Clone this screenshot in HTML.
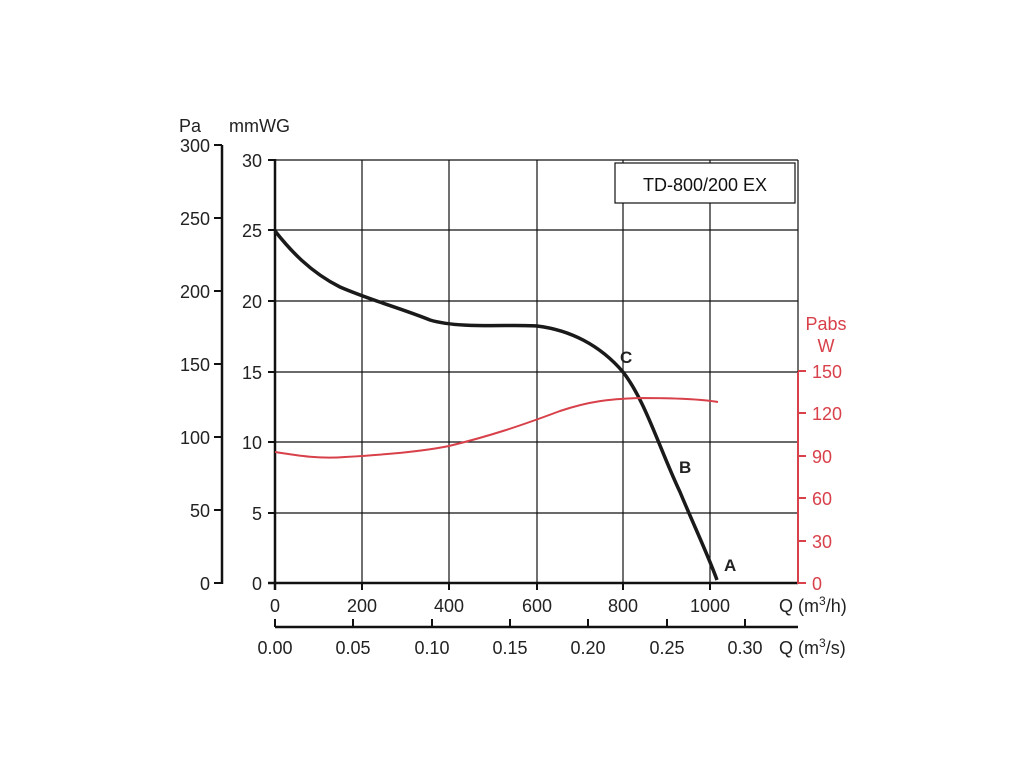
<!DOCTYPE html>
<html><head><meta charset="utf-8"><style>
html,body{margin:0;padding:0;background:#fff;}
svg{display:block;font-family:"Liberation Sans",Arial,sans-serif;}
</style></head><body>
<svg width="1024" height="768" viewBox="0 0 1024 768">
<rect width="1024" height="768" fill="#fff"/>
<g stroke="#111" stroke-width="1.2">
<line x1="362" y1="160" x2="362" y2="583"/><line x1="449" y1="160" x2="449" y2="583"/>
<line x1="537" y1="160" x2="537" y2="583"/><line x1="623" y1="160" x2="623" y2="583"/>
<line x1="710" y1="160" x2="710" y2="583"/>
<line x1="275" y1="160" x2="798" y2="160"/><line x1="275" y1="230" x2="798" y2="230"/>
<line x1="275" y1="301" x2="798" y2="301"/><line x1="275" y1="372" x2="798" y2="372"/>
<line x1="275" y1="442" x2="798" y2="442"/><line x1="275" y1="513" x2="798" y2="513"/>
<line x1="798" y1="160" x2="798" y2="372"/>
</g>
<g stroke="#111" stroke-width="2.5">
<line x1="275" y1="159" x2="275" y2="590"/><line x1="268" y1="583" x2="798" y2="583"/>
<line x1="222" y1="145" x2="222" y2="584"/>
<line x1="275" y1="627" x2="798" y2="627"/>
</g>
<g stroke="#111" stroke-width="2">
<line x1="268" y1="160" x2="275" y2="160"/><line x1="268" y1="230" x2="275" y2="230"/><line x1="268" y1="301" x2="275" y2="301"/><line x1="268" y1="372" x2="275" y2="372"/><line x1="268" y1="442" x2="275" y2="442"/><line x1="268" y1="513" x2="275" y2="513"/>
<line x1="214" y1="145" x2="222" y2="145"/><line x1="214" y1="218" x2="222" y2="218"/><line x1="214" y1="291" x2="222" y2="291"/><line x1="214" y1="364" x2="222" y2="364"/><line x1="214" y1="437" x2="222" y2="437"/><line x1="214" y1="510" x2="222" y2="510"/><line x1="214" y1="583" x2="222" y2="583"/>
<line x1="362" y1="583" x2="362" y2="590"/><line x1="449" y1="583" x2="449" y2="590"/><line x1="537" y1="583" x2="537" y2="590"/><line x1="623" y1="583" x2="623" y2="590"/><line x1="710" y1="583" x2="710" y2="590"/>
<line x1="275" y1="627" x2="275" y2="619"/><line x1="353" y1="627" x2="353" y2="619"/><line x1="432" y1="627" x2="432" y2="619"/><line x1="510" y1="627" x2="510" y2="619"/><line x1="588" y1="627" x2="588" y2="619"/><line x1="667" y1="627" x2="667" y2="619"/><line x1="745" y1="627" x2="745" y2="619"/>
</g>
<g stroke="#d8404a" stroke-width="2">
<line x1="798" y1="372" x2="798" y2="584"/>
<line x1="798" y1="371" x2="806" y2="371"/><line x1="798" y1="413" x2="806" y2="413"/><line x1="798" y1="456" x2="806" y2="456"/><line x1="798" y1="498" x2="806" y2="498"/><line x1="798" y1="541" x2="806" y2="541"/><line x1="798" y1="583" x2="806" y2="583"/>
</g>
<rect x="615" y="163" width="180" height="40" fill="#fff" stroke="#111" stroke-width="1.2"/>
<text x="705" y="191" font-size="18" text-anchor="middle" fill="#111">TD-800/200 EX</text>
<path d="M275,231 C290,250 310,272 340,287 C370,300 400,308 430,320 C460,329 510,324 537,326 C570,330 600,345 623,372 C645,400 660,450 680,492 C695,528 708,555 717,580" fill="none" stroke="#1a1a1a" stroke-width="3.5"/>
<path d="M275,452 C300,456 320,459 345,457 C380,455 420,452 449,446 C490,436 520,426 560,411 C590,401 610,399 640,398 C670,398 700,399 718,402" fill="none" stroke="#d8404a" stroke-width="2"/>
<g font-size="18" fill="#222">
<text x="179" y="132">Pa</text><text x="229" y="132">mmWG</text>
<g text-anchor="end">
<text x="210" y="152">300</text><text x="210" y="225">250</text><text x="210" y="298">200</text><text x="210" y="371">150</text><text x="210" y="444">100</text><text x="210" y="517">50</text><text x="210" y="590">0</text>
<text x="262" y="167">30</text><text x="262" y="237">25</text><text x="262" y="308">20</text><text x="262" y="379">15</text><text x="262" y="449">10</text><text x="262" y="520">5</text><text x="262" y="590">0</text>
</g>
<g text-anchor="middle">
<text x="275" y="612">0</text><text x="362" y="612">200</text><text x="449" y="612">400</text><text x="537" y="612">600</text><text x="623" y="612">800</text><text x="710" y="612">1000</text>
<text x="275" y="654">0.00</text><text x="353" y="654">0.05</text><text x="432" y="654">0.10</text><text x="510" y="654">0.15</text><text x="588" y="654">0.20</text><text x="667" y="654">0.25</text><text x="745" y="654">0.30</text>
</g>
<text x="779" y="612">Q (m<tspan font-size="12" dy="-7">3</tspan><tspan dy="7">/h)</tspan></text>
<text x="779" y="654">Q (m<tspan font-size="12" dy="-7">3</tspan><tspan dy="7">/s)</tspan></text>
</g>
<g font-size="18" fill="#d8404a">
<text x="826" y="330" text-anchor="middle">Pabs</text><text x="826" y="352" text-anchor="middle">W</text>
<text x="812" y="378">150</text><text x="812" y="420">120</text><text x="812" y="463">90</text><text x="812" y="505">60</text><text x="812" y="548">30</text><text x="812" y="590">0</text>
</g>
<g font-size="17" font-weight="bold" fill="#222">
<text x="620" y="363">C</text><text x="679" y="473">B</text><text x="724" y="571">A</text>
</g>
</svg>
</body></html>
